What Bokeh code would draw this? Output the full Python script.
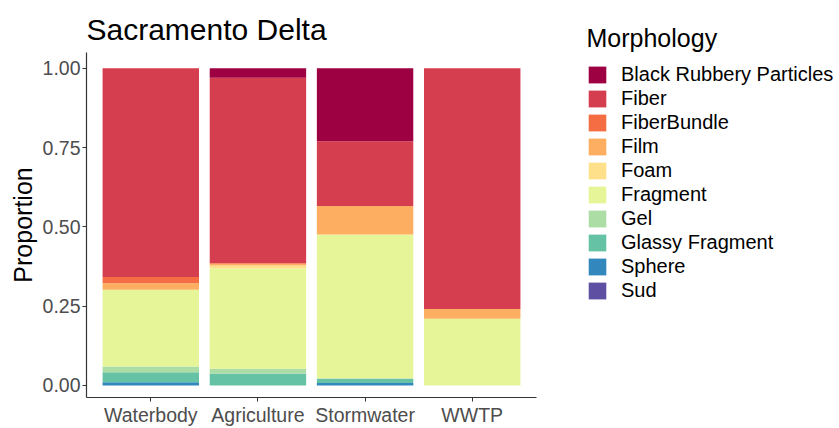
from bokeh.plotting import figure
from bokeh.layouts import row
from bokeh.models import (FactorRange, Range1d, FixedTicker, Legend, LegendItem,
                          NumeralTickFormatter, ColumnDataSource)
from bokeh.embed import file_html
from bokeh.resources import INLINE

# ---- data (proportions) ----
sites = ["Waterbody", "Agriculture", "Stormwater", "WWTP"]
# stacking order: bottom -> top
morphologies = ["Sud", "Sphere", "Glassy Fragment", "Gel", "Fragment",
                "Foam", "Film", "FiberBundle", "Fiber", "Black Rubbery Particles"]
sud = [0.0, 0.0, 0.0, 0.0]
sphere = [0.010, 0.0, 0.008, 0.0]
glassy_fragment = [0.032, 0.038, 0.014, 0.0]
gel = [0.018, 0.015, 0.0, 0.0]
fragment = [0.242, 0.317, 0.454, 0.210]
foam = [0.0, 0.008, 0.0, 0.0]
film = [0.020, 0.006, 0.090, 0.031]
fiber_bundle = [0.020, 0.002, 0.0, 0.0]
fiber = [0.658, 0.584, 0.204, 0.759]
black_rubbery = [0.0, 0.030, 0.230, 0.0]
y_ticks = [0.0, 0.25, 0.5, 0.75, 1.0]

colors = {
    "Black Rubbery Particles": "#9e0142",
    "Fiber": "#d53e4f",
    "FiberBundle": "#f46d43",
    "Film": "#fdae61",
    "Foam": "#fee08b",
    "Fragment": "#e6f598",
    "Gel": "#abdda4",
    "Glassy Fragment": "#66c2a5",
    "Sphere": "#3288bd",
    "Sud": "#5e4fa2",
}

series = [sud, sphere, glassy_fragment, gel, fragment, foam, film,
          fiber_bundle, fiber, black_rubbery]
data = {"site": sites}
for name, vals in zip(morphologies, series):
    data[name] = vals
source = ColumnDataSource(data)

FONT = "Liberation Sans"

# ---------------- main chart ----------------
p = figure(x_range=FactorRange(*sites, range_padding=0.05),
           y_range=Range1d(-0.038, 1.05),
           width=560, height=428, output_backend="svg", toolbar_location=None,
           min_border_left=86, min_border_right=24, min_border_top=52,
           min_border_bottom=25, title="Sacramento Delta")

p.vbar_stack(morphologies, x="site", width=0.9, source=source,
             color=[colors[m] for m in morphologies], line_width=0)

p.outline_line_color = None
p.xgrid.grid_line_color = None
p.ygrid.grid_line_color = None

p.title.text_font = FONT
p.title.text_font_size = "30px"
p.title.text_font_style = "normal"
p.title.text_color = "black"
p.title.align = "left"
p.title.standoff = 13

p.yaxis.ticker = FixedTicker(ticks=y_ticks)
p.yaxis.formatter = NumeralTickFormatter(format="0.00")
p.yaxis.axis_label = "Proportion"
p.yaxis.axis_label_text_font = FONT
p.yaxis.axis_label_text_font_size = "25px"
p.yaxis.axis_label_text_font_style = "normal"
p.yaxis.axis_label_text_color = "black"
p.yaxis.axis_label_standoff = 3

for ax in (p.xaxis, p.yaxis):
    ax.major_label_text_font = FONT
    ax.major_label_text_font_size = "19.5px"
    ax.major_label_text_color = "#4d4d4d"
    ax.axis_line_color = "#333333"
    ax.axis_line_width = 1.2
    ax.major_tick_line_color = "#333333"
    ax.major_tick_out = 4
    ax.major_tick_in = 0
    ax.minor_tick_line_color = None
    ax.major_label_standoff = 2

# ---------------- legend panel ----------------
pl = figure(width=279, height=428, x_range=Range1d(0, 1), y_range=Range1d(0, 1),
            x_axis_type=None, y_axis_type=None, output_backend="svg",
            toolbar_location=None, min_border=0, title="Morphology")
pl.outline_line_color = None
pl.xgrid.visible = False
pl.ygrid.visible = False
pl.title.text_font = FONT
pl.title.text_font_size = "25px"
pl.title.text_font_style = "normal"
pl.title.text_color = "black"
pl.title.align = "left"
pl.title.offset = 26
pl.title.standoff = 2

# one off-screen point per key so the legend can draw its swatch
offscreen = ColumnDataSource(dict(x=[10.0], top=[10.0]))
legend_order = morphologies[::-1]  # top of legend = top of stack
items = []
for m in legend_order:
    r = pl.vbar(x="x", top="top", bottom=9.0, width=0.1, source=offscreen,
                fill_color=colors[m], line_color=None)
    items.append(LegendItem(label=m, renderers=[r]))

legend = Legend(items=items, location=(26, 95),
                label_text_font=FONT, label_text_font_size="20px",
                label_text_color="black",
                glyph_width=22, glyph_height=21, spacing=1, label_standoff=13,
                padding=0, margin=0, border_line_color=None,
                background_fill_alpha=0)
pl.add_layout(legend)

layout = row(p, pl)

with open("out.html", "w") as f:
    f.write(file_html(layout, INLINE))
